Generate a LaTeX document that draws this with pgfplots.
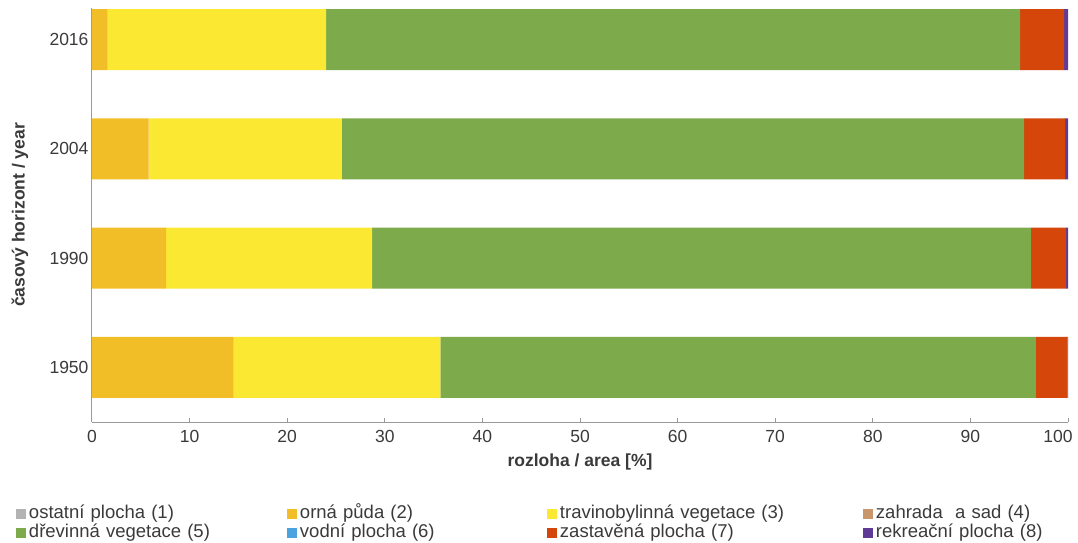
\documentclass[border=0pt]{standalone}
\usepackage{fontspec}
\setmainfont{Liberation Sans}
\usepackage{pgfplots}
\pgfplotsset{compat=1.18}
\definecolor{c1}{HTML}{B3B3B3}
\definecolor{c2}{HTML}{F1BE27}
\definecolor{c3}{HTML}{FBE832}
\definecolor{c4}{HTML}{C8966A}
\definecolor{c5}{HTML}{7DAA4A}
\definecolor{c6}{HTML}{4AA3DF}
\definecolor{c7}{HTML}{D4460A}
\definecolor{c8}{HTML}{5F3B96}
\definecolor{textgray}{HTML}{3A3A3A}
\definecolor{axisgray}{HTML}{9A9A9A}
\pgfplotsset{sq legend/.style={legend image code/.code={\fill[##1] (0pt,-5pt) rectangle (10pt,5pt);}}}
\begin{document}
\begin{tikzpicture}
\useasboundingbox (0,0) rectangle (1078pt,542pt);
\begin{axis}[
  at={(92pt,120pt)}, anchor=south west,
  scale only axis, width=976pt, height=414pt,
  xbar stacked, bar width=61pt,
  xmin=0, xmax=100, ymin=-0.5, ymax=3.29,
  ytick={0,1,2,3}, yticklabels={1950,1990,2004,2016},
  xtick={0,10,...,100},
  xticklabels={0,10,20,30,40,50,60,70,80,90,\hspace*{-20pt}100},
  axis x line*=bottom, axis y line*=left,
  axis line style={draw=axisgray, line width=1pt},
  tick align=inside,
  major x tick style={draw=axisgray, line width=1pt},
  major tick length=4pt,
  major y tick style={draw=none},
  /pgf/number format/assume math mode=true,
  ticklabel style={font=\fontsize{17.5}{20}\selectfont, text=textgray},
  xticklabel style={yshift=-5pt},
  xlabel={\bfseries rozloha / area [\%]},
  ylabel={\bfseries časový horizont / year},
  xlabel style={at={(axis description cs:0.5,-0.0966)}, anchor=center, font=\fontsize{17.5}{20}\selectfont, text=textgray},
  ylabel style={at={(axis description cs:-0.0738,0.5)}, anchor=center, rotate=0, font=\fontsize{17.5}{20}\selectfont, text=textgray},
  every axis plot post/.append style={sq legend},
  legend columns=4,
  legend style={at={(axis description cs:-0.0779,-0.199)}, anchor=north west,
    draw=none, fill=none, inner sep=0pt, outer sep=0pt, row sep=0pt, column sep=0pt,
    font=\fontsize{18.5}{20}\selectfont, text=textgray,
    nodes={inner sep=0pt, text height=14pt, text depth=5pt, anchor=west},
    /tikz/column 1/.style={column sep=3pt},
    /tikz/column 3/.style={column sep=3pt},
    /tikz/column 5/.style={column sep=3pt},
    /tikz/column 7/.style={column sep=3pt},
    /tikz/column 2/.style={nodes={text width=258pt}},
    /tikz/column 4/.style={nodes={text width=247pt}},
    /tikz/column 6/.style={nodes={text width=303pt}},
    /tikz/column 8/.style={nodes={text width=190pt}},
  },
]
\addplot[fill=c1, draw=none] coordinates {(0,0) (0,1) (0,2) (0,3)};
\addlegendentry{ostatní plocha (1)}
\addplot[fill=c2, draw=none] coordinates {(14.5,0) (7.6,1) (5.8,2) (1.6,3)};
\addlegendentry{orná půda (2)}
\addplot[fill=c3, draw=none] coordinates {(21.2,0) (21.1,1) (19.8,2) (22.4,3)};
\addlegendentry{travinobylinná vegetace (3)}
\addplot[fill=c4, draw=none] coordinates {(0,0) (0,1) (0,2) (0,3)};
\addlegendentry{zahrada\ \ a sad (4)}
\addplot[fill=c5, draw=none] coordinates {(61.0,0) (67.5,1) (69.9,2) (71.1,3)};
\addlegendentry{dřevinná vegetace (5)}
\addplot[fill=c6, draw=none] coordinates {(0,0) (0,1) (0,2) (0,3)};
\addlegendentry{vodní plocha (6)}
\addplot[fill=c7, draw=none] coordinates {(3.25,0) (3.6,1) (4.2,2) (4.5,3)};
\addlegendentry{zastavěná plocha (7)}
\addplot[fill=c8, draw=none] coordinates {(0.05,0) (0.2,1) (0.3,2) (0.4,3)};
\addlegendentry{rekreační plocha (8)}
\end{axis}
\end{tikzpicture}
\end{document}
